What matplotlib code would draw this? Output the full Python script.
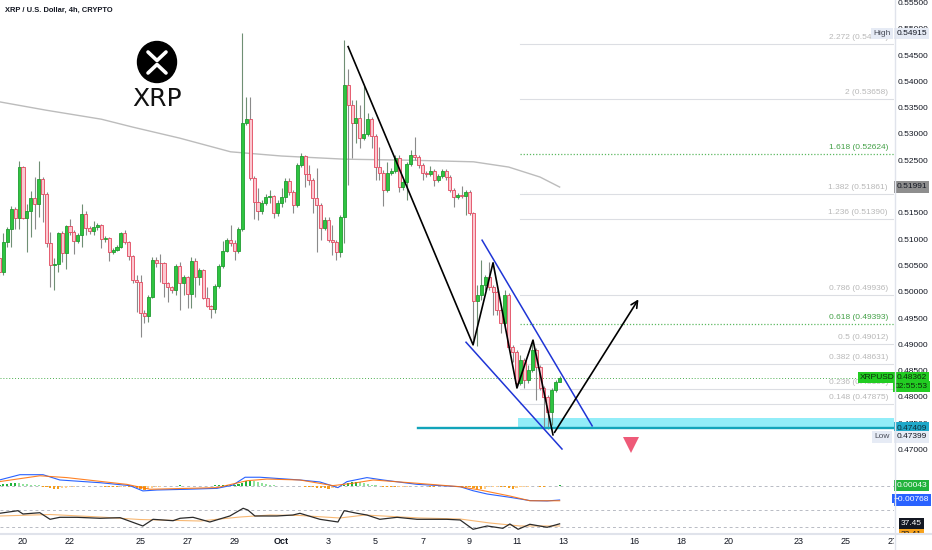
import matplotlib
matplotlib.use('Agg')
import matplotlib.pyplot as plt
import numpy as np
from matplotlib.patches import Ellipse, Rectangle
from matplotlib.transforms import blended_transform_factory, Bbox

plt.rcParams['font.family'] = ['Liberation Sans', 'DejaVu Sans']

# XRP/USD 4h candles, Sep 19 00:00 -> Oct 12 20:00 (index 0 = Sep 19 00:00)
first_open = 0.5064
closes = [0.5037, 0.5095, 0.5119, 0.5157, 0.5140, 0.5237, 0.5140, 0.5153, 0.5178, 0.5167,
          0.5214, 0.5186, 0.5093, 0.5051, 0.5053, 0.5112, 0.5074, 0.5125, 0.5113, 0.5096,
          0.5108, 0.5148, 0.5121, 0.5115, 0.5123, 0.5127, 0.5100, 0.5102, 0.5076, 0.5079,
          0.5085, 0.5112, 0.5095, 0.5068, 0.5022, 0.5018, 0.4959, 0.4954, 0.4990, 0.5060,
          0.5055, 0.5054, 0.5017, 0.5009, 0.5003, 0.5049, 0.5017, 0.5028, 0.4996, 0.5058,
          0.5028, 0.5041, 0.4988, 0.4973, 0.4967, 0.5011, 0.5049, 0.5077, 0.5098, 0.5093,
          0.5077, 0.5119, 0.5321, 0.5328, 0.5216, 0.5171, 0.5153, 0.5169, 0.5180, 0.5182,
          0.5150, 0.5169, 0.5180, 0.5211, 0.5190, 0.5165, 0.5241, 0.5258, 0.5224, 0.5212,
          0.5178, 0.5165, 0.5121, 0.5136, 0.5098, 0.5095, 0.5076, 0.5142, 0.5393, 0.5355,
          0.5321, 0.5330, 0.5292, 0.5300, 0.5328, 0.5296, 0.5237, 0.5226, 0.5193, 0.5226,
          0.5230, 0.5254, 0.5199, 0.5209, 0.5243, 0.5260, 0.5256, 0.5241, 0.5226, 0.5224,
          0.5230, 0.5212, 0.5220, 0.5230, 0.5218, 0.5193, 0.5180, 0.5184, 0.5182, 0.5190,
          0.5150, 0.4982, 0.4994, 0.5013, 0.5028, 0.5009, 0.4999, 0.4965, 0.4941, 0.4994,
          0.4895, 0.4886, 0.4826, 0.4870, 0.4832, 0.4851, 0.4889, 0.4857, 0.4817, 0.4800,
          0.4771, 0.4813, 0.4828, 0.48362]
highs = [0.5076, 0.5112, 0.5123, 0.5163, 0.5161, 0.5249, 0.5239, 0.5167, 0.5191, 0.5218,
         0.5249, 0.5218, 0.5190, 0.5113, 0.5064, 0.5113, 0.5115, 0.5127, 0.5138, 0.5117,
         0.5112, 0.5167, 0.5153, 0.5125, 0.5134, 0.5131, 0.5129, 0.5106, 0.5104, 0.5083,
         0.5089, 0.5113, 0.5117, 0.5096, 0.5070, 0.5032, 0.5032, 0.4965, 0.4994, 0.5066,
         0.5066, 0.5072, 0.5056, 0.5018, 0.5011, 0.5053, 0.5056, 0.5032, 0.5030, 0.5066,
         0.5064, 0.5045, 0.5043, 0.5009, 0.4975, 0.5015, 0.5053, 0.5096, 0.5102, 0.5127,
         0.5098, 0.5123, 0.54915, 0.5370, 0.5370, 0.5220, 0.5197, 0.5174, 0.5186, 0.5193,
         0.5184, 0.5174, 0.5197, 0.5216, 0.5216, 0.5193, 0.5245, 0.5264, 0.5260, 0.5241,
         0.5216, 0.5235, 0.5169, 0.5142, 0.5142, 0.5127, 0.5098, 0.5146, 0.5479, 0.5423,
         0.5364, 0.5364, 0.5355, 0.5391, 0.5340, 0.5332, 0.5300, 0.5275, 0.5231, 0.5247,
         0.5235, 0.5260, 0.5260, 0.5212, 0.5247, 0.5269, 0.5294, 0.5260, 0.5245, 0.5230,
         0.5239, 0.5233, 0.5224, 0.5233, 0.5233, 0.5222, 0.5197, 0.5188, 0.5201, 0.5193,
         0.5193, 0.5152, 0.5013, 0.5060, 0.5032, 0.5056, 0.5013, 0.5003, 0.4969, 0.5003,
         0.4997, 0.4899, 0.4889, 0.4880, 0.4874, 0.4861, 0.4908, 0.4893, 0.4861, 0.4821,
         0.4804, 0.4817, 0.4832, 0.4840]
lows = [0.5030, 0.5032, 0.5085, 0.5085, 0.5119, 0.5119, 0.5138, 0.5076, 0.5104, 0.5119,
        0.5142, 0.5132, 0.5085, 0.5009, 0.5003, 0.5037, 0.5056, 0.5043, 0.5108, 0.5072,
        0.5093, 0.5085, 0.5108, 0.5110, 0.5108, 0.5117, 0.5083, 0.5095, 0.5058, 0.5072,
        0.5077, 0.5083, 0.5091, 0.5060, 0.5017, 0.4961, 0.4914, 0.4941, 0.4942, 0.4988,
        0.5047, 0.5018, 0.4990, 0.4980, 0.4997, 0.4994, 0.4965, 0.4994, 0.4969, 0.4969,
        0.4990, 0.5013, 0.4986, 0.4971, 0.4950, 0.4959, 0.5007, 0.5045, 0.5076, 0.5087,
        0.5060, 0.5074, 0.5115, 0.5317, 0.5212, 0.5138, 0.5136, 0.5148, 0.5165, 0.5169,
        0.5140, 0.5144, 0.5161, 0.5171, 0.5184, 0.5150, 0.5161, 0.5237, 0.5199, 0.5203,
        0.5150, 0.5076, 0.5098, 0.5117, 0.5095, 0.5070, 0.5060, 0.5066, 0.5093, 0.5203,
        0.5254, 0.5283, 0.5273, 0.5288, 0.5296, 0.5273, 0.5212, 0.5212, 0.5163, 0.5190,
        0.5222, 0.5226, 0.5190, 0.5193, 0.5174, 0.5239, 0.5250, 0.5235, 0.5212, 0.5218,
        0.5220, 0.5201, 0.5209, 0.5216, 0.5212, 0.5190, 0.5161, 0.5176, 0.5178, 0.5146,
        0.5146, 0.4908, 0.4897, 0.4984, 0.5003, 0.5003, 0.4956, 0.4956, 0.4921, 0.4935,
        0.4889, 0.4867, 0.4819, 0.4823, 0.4817, 0.4826, 0.4847, 0.4794, 0.4813, 0.4743,
        0.47399, 0.4747, 0.4809, 0.4828]
opens = [first_open] + closes[:-1]

# 200 MA (grey), read at a few candles
ma_idx = [0, 12, 26, 34, 46, 59, 72, 88, 105, 121, 130, 138, 143]
ma_val = [0.5361, 0.5345, 0.5328, 0.5313, 0.5292, 0.5266, 0.5258, 0.5252, 0.5250, 0.5247,
          0.5237, 0.5218, 0.5199]

# fib levels
fib_ratios = ['2.272', '2', '1.618', '1.382', '1.236', '0.786', '0.618', '0.5', '0.382', '0.236', '0.148']
fib_prices = [0.54719, 0.53658, 0.52624, 0.51861, 0.51390, 0.49936, 0.49393, 0.49012, 0.48631,
              0.48159, 0.47875]

# drawings
zig_idx = [89.0, 120.9, 126.0, 132.1, 136.2, 141.3]
zig_px = [0.5466, 0.4899, 0.5055, 0.4817, 0.4908, 0.4728]
arrow_end = (163.5, 0.4990)
chan_up_idx, chan_up_px = [123.2, 151.3], [0.5098, 0.4745]
chan_lo_idx, chan_lo_px = [119.1, 143.6], [0.4904, 0.4701]
support = 0.47409
zone_top = 0.4760
last_price = 0.48362
high_price, low_price = 0.54915, 0.47399
ma_last = 0.51991

# MACD
macd_idx = [0, 5.2, 11.1, 15.4, 25.7, 33.3, 36.6, 40.2, 47.9, 55.5, 59.6, 62.7, 66.5, 76.7,
            81.8, 86.4, 88.7, 93.8, 97.9, 106.6, 117.6, 120.9, 124.5, 130.3, 135.4, 139.8, 143]
macd_val = [0.0033, 0.0062, 0.0062, 0.0033, 0.0018, 0.0002, -0.0027, -0.0022, -0.0018, -0.0013,
            0.0005, 0.0048, 0.0048, 0.0033, 0.0022, -0.0009, 0.0024, 0.0046, 0.0033, 0.0009,
            -0.0004, -0.0026, -0.0044, -0.0062, -0.0080, -0.0082, -0.00768]
sig_idx = [0, 10.3, 17.2, 32.5, 38.4, 55.5, 63.2, 68.3, 76.7, 85.1, 90.2, 95.4, 106.6, 117.6,
           122.7, 130.3, 135.4, 143]
sig_val = [0.0024, 0.0056, 0.0046, 0.0009, -0.0018, -0.0009, 0.0029, 0.0038, 0.0033, 0.0002,
           0.0015, 0.0033, 0.0015, -0.0004, -0.0022, -0.0055, -0.0081, -0.0081]
hist_e4 = [8, 10, 12, 14, 15,
           14, 12, 10, 8, 6, 4,
           -3, -8, -12, -15, -16, -13, -9, -5,
           -3, -2, -1, -1, 0, -1, -2, -2,
           -4, -5, -6, -7, -6, -5, -6,
           -8, -12, -16, -20, -18, -12, -6,
           -3, -1, 0, 1, 2, 3, 2, 1, 0, -1, -1, 0, 1, 2, 3,
           5, 6, 7, 8, 8, 9,
           18, 26, 30, 26, 20, 14,
           9, 6, 4, 2, 1, 1, 0, -1, 1,
           -2, -4, -6, -8, -10, -12, -13, -14, -13, -12, -8,
           6, 14, 20, 22, 20, 16, 12, 8, 4,
           -1, -3, -5, -6, -6, -5, -4, -3, -2, -2, -1,
           -2, -2, -3, -3, -2, -2, -1, -1, -2, -3, -4, -4, -5,
           -10, -16, -18, -14, -8, -5, -3,
           -4, -6, -12, -14, -10, -6, -4, -3,
           -2, -2, -3, -3, -2, -1, 2, 4.3]

# RSI
rsi_idx = [0, 4.7, 6, 10.3, 12.9, 15.4, 19.8, 25.7, 30.8, 36.6, 39.2, 44.3, 46.1, 49.4, 53.7,
           58.8, 62.2, 63.4, 65.2, 70.8, 74.9, 76.7, 81.8, 86.4, 88, 91.3, 93.8, 97.1, 101.5,
           106.6, 114.2, 117.6, 120.9, 124.5, 128.5, 130.3, 132.4, 135.4, 139.8, 143]
rsi_val = [62.2, 68.4, 60.6, 63.6, 48.1, 52.8, 52.8, 50.5, 51.9, 32.4, 48.1, 44.8, 50.5, 52.8,
           41.8, 55.9, 74.0, 70.0, 55.9, 55.9, 58.2, 62.2, 48.1, 41.8, 68.4, 62.2, 58.2, 48.1,
           52.8, 48.1, 48.1, 46.5, 24.6, 32.4, 26.9, 37.1, 24.6, 36.4, 29.3, 37.45]
rsima_idx = [0, 12.9, 25.7, 35.9, 51.2, 61.4, 69, 76.7, 86.9, 93.3, 107.4, 117.6, 125.2, 132.9, 143]
rsima_val = [55.9, 59.4, 53.5, 47.6, 44.1, 53.5, 58.2, 57.1, 51.2, 58.2, 51.2, 48.8, 39.4, 32.4, 32.4]
rsima_last = 32.41

# date axis
tick_idx = [6, 18, 36, 48, 60, 72, 84, 96, 108, 120, 132, 144, 162, 174, 186, 204, 216, 228]
tick_txt = ['20', '22', '25', '27', '29', 'Oct', '3', '5', '7', '9', '11', '13', '16', '18',
            '20', '23', '25', '27']

W, H = 932, 550
fig = plt.figure(figsize=(W / 100, H / 100), dpi=100)
fig.patch.set_facecolor('white')
xl = (0.128, 228.36)
ax = fig.add_axes([0, 1 - 460 / H, 894 / W, 460 / H])
ax_m = fig.add_axes([0, 1 - 503 / H, 894 / W, 43 / H])
ax_r = fig.add_axes([0, 1 - 533 / H, 894 / W, 30 / H])
for a in (ax, ax_m, ax_r):
    a.set_xlim(*xl)
    for s in a.spines.values():
        s.set_visible(False)
    a.set_xticks([])
ax.set_ylim(0.46801, 0.55546)
ax_m.set_ylim(-0.00933, 0.01426)
ax_r.set_ylim(15.88, 86.47)
ax_m.set_yticks([])
ax_r.set_yticks([])

# candles
idx = np.arange(len(closes))
o = np.array(opens); c = np.array(closes)
up = c >= o
wick_col = ['#6f8f74' if u else '#8a8a8a' for u in up]
ax.vlines(idx, lows, highs, colors=wick_col, lw=0.8, zorder=2)
body_h = np.maximum(np.abs(c - o), 0.00006)
ax.bar(idx, body_h, bottom=np.minimum(o, c), width=0.78,
       color=['#2ec440' if u else '#fbc9d1' for u in up],
       edgecolor=['#1f9c30' if u else '#e2475d' for u in up], linewidth=0.6, zorder=3)

ax.plot(ma_idx, ma_val, color='#bcbcbc', lw=1.0, zorder=1)

# right price scale (0.52000 sits fully under the MA tag, so it is left out)
ticks = [v for v in np.round(np.arange(0.470, 0.5551, 0.005), 3) if abs(v - 0.520) > 1e-6]
ax.yaxis.tick_right()
ax.set_yticks(ticks)
ax.set_yticklabels([f'{v:.5f}' for v in ticks])
ax.tick_params(axis='y', length=0, pad=2.5, labelsize=6, labelcolor='#131722')

# fib levels
for r, p in zip(fib_ratios, fib_prices):
    green = r in ('1.618', '0.618')
    if green:
        ax.plot([132.9, xl[1]], [p, p], color='#5cb860', lw=0.9, ls=(0, (1, 1.5)), zorder=1)
    else:
        ax.plot([132.9, xl[1]], [p, p], color='#dcdee3', lw=0.8, zorder=1)
    ax.text(888 / W, p + 0.0012, f'{r} ({p:.5f})',
            transform=blended_transform_factory(fig.transFigure, ax.transData),
            ha='right', va='center', fontsize=6, color='#43a047' if green else '#b8b8b8', zorder=4)

# current price line
ax.axhline(last_price, color='#4caf50', lw=0.7, ls=(0, (1, 2)), zorder=1)

# support zone
ax.add_patch(Rectangle((132.4, support), xl[1] - 132.4, zone_top - support,
                       facecolor='#86ecf8', edgecolor='none', alpha=0.9, zorder=1))
ax.plot([106.8, xl[1]], [support, support], color='#12a4ba', lw=1.7, zorder=2)

# drawings
ax.plot(zig_idx, zig_px, color='black', lw=1.2, zorder=6)
ax.annotate('', xy=arrow_end, xytext=(zig_idx[-1], zig_px[-1]),
            arrowprops=dict(arrowstyle='->', color='black', lw=1.2, mutation_scale=12), zorder=6)
ax.plot(chan_up_idx, chan_up_px, color='#1f35d6', lw=1.1, zorder=5)
ax.plot(chan_lo_idx, chan_lo_px, color='#1f35d6', lw=1.1, zorder=5)
ax.plot([161.2], [0.4709], marker='v', color='#ee5a78', markersize=11, markeredgewidth=0, zorder=6)

# price scale tags
def tag(a, xpx, y, txt, bg, fg, fs=6, clip=None):
    t = a.text(xpx / W, y, txt, transform=blended_transform_factory(fig.transFigure, a.transData),
               ha='center', va='center', fontsize=fs, color=fg, zorder=10,
               bbox=dict(boxstyle='square,pad=0.25', fc=bg, ec='none'))
    if clip is not None:
        t.set_clip_on(True)
        t.set_clip_box(clip)
        t.get_bbox_patch().set_clip_on(True)
        t.get_bbox_patch().set_clip_box(clip)
    return t

tag(ax, 911.5, high_price, f'{high_price:.5f}', '#e6ebf5', '#131722')
tag(ax, 882, high_price, 'High', '#e6ebf5', '#4a4e5a')
tag(ax, 911.5, ma_last, f'{ma_last:.5f}', '#8e8e8e', '#131722')
tag(ax, 911.5, last_price, f'{last_price:.5f}', '#22cc22', '#0b2a0b')
tag(ax, 911.5, last_price - 0.0017, '02:55:53', '#22cc22', '#0b2a0b')
tag(ax, 877, last_price, 'XRPUSD', '#22cc22', '#0b2a0b')
tag(ax, 911.5, support, f'{support:.5f}', '#1fa8c9', '#0e2e3b')
tag(ax, 911.5, low_price - 0.0016, f'{low_price:.5f}', '#e6ebf5', '#131722')
tag(ax, 882, low_price - 0.0016, 'Low', '#e6ebf5', '#4a4e5a')

# MACD pane
hist = np.array(hist_e4) * 1e-4
hcol = []
for k, h in enumerate(hist):
    prev = hist[k - 1] if k > 0 else 0
    if h >= 0:
        hcol.append('#22b33c' if h >= prev else '#92e39c')
    else:
        hcol.append('#f59d1b' if h <= prev else '#ffcf8f')
ax_m.bar(idx, hist, width=0.55, color=hcol, zorder=2)
ax_m.axhline(0, color='#b8bbc4', lw=0.7, ls=(0, (3, 3)), zorder=1)
ax_m.plot(macd_idx, macd_val, color='#2962ff', lw=0.8, zorder=3)
ax_m.plot(sig_idx, sig_val, color='#ff6d00', lw=0.8, alpha=0.85, zorder=3)
tag(ax_m, 911.5, 0.00043, '0.00043', '#22b33c', 'white')
tag(ax_m, 911.5, -0.00768, '\u22120.00768', '#2962ff', 'white')

# RSI pane
for lvl in (70, 30):
    ax_r.axhline(lvl, color='#b8bbc4', lw=0.7, ls=(0, (3, 3)), zorder=1)
ax_r.plot(rsima_idx, rsima_val, color='#f7b874', lw=0.8, zorder=2)
ax_r.plot(rsi_idx, rsi_val, color='#2b2b2b', lw=0.9, zorder=3)
tag(ax_r, 911.5, 37.45, '37.45', '#131722', 'white')
# MA value tag is pushed below the RSI tag and cut by the time scale
tag(ax_r, 911.5, 37.45 - 24.5, f'{rsima_last:.2f}', '#f7a21b', '#131722',
    clip=Bbox([[0, 17], [W, H]]))

# date labels
clipbox = Bbox([[0, 0], [894, H]])
for i, s in zip(tick_idx, tick_txt):
    t = ax_r.text(i, -0.267, s, transform=blended_transform_factory(ax_r.transData, ax_r.transAxes),
                  ha='center', va='center', fontsize=6.5, color='#131722',
                  fontweight='bold' if s == 'Oct' else 'normal')
    t.set_clip_on(True)
    t.set_clip_box(clipbox)

# overlay: frame lines, title, logo
ov = fig.add_axes([0, 0, 1, 1], zorder=20)
ov.set_xlim(0, W)
ov.set_ylim(H, 0)
ov.axis('off')
ov.plot([0, W], [533.5, 533.5], color='#e0e3eb', lw=1.5)
ov.plot([894.5, 894.5], [0, H], color='#e0e3eb', lw=1.0)
ov.text(5, 10, 'XRP / U.S. Dollar, 4h, CRYPTO', fontsize=5.4, fontweight='bold',
        color='#131722', va='center', ha='left')
ov.add_patch(Ellipse((157, 62), 39, 41, color='black'))
ov.plot([148, 157, 166], [52, 60.5, 52], color='white', lw=2.6, solid_capstyle='round',
        solid_joinstyle='round')
ov.plot([148, 157, 166], [73, 64.5, 73], color='white', lw=2.6, solid_capstyle='round',
        solid_joinstyle='round')
ov.text(157, 99, 'XRP', fontsize=18, color='#111111', ha='center', va='center',
        family=['DejaVu Sans'])

fig.savefig('out.png', dpi=100, facecolor='white')
